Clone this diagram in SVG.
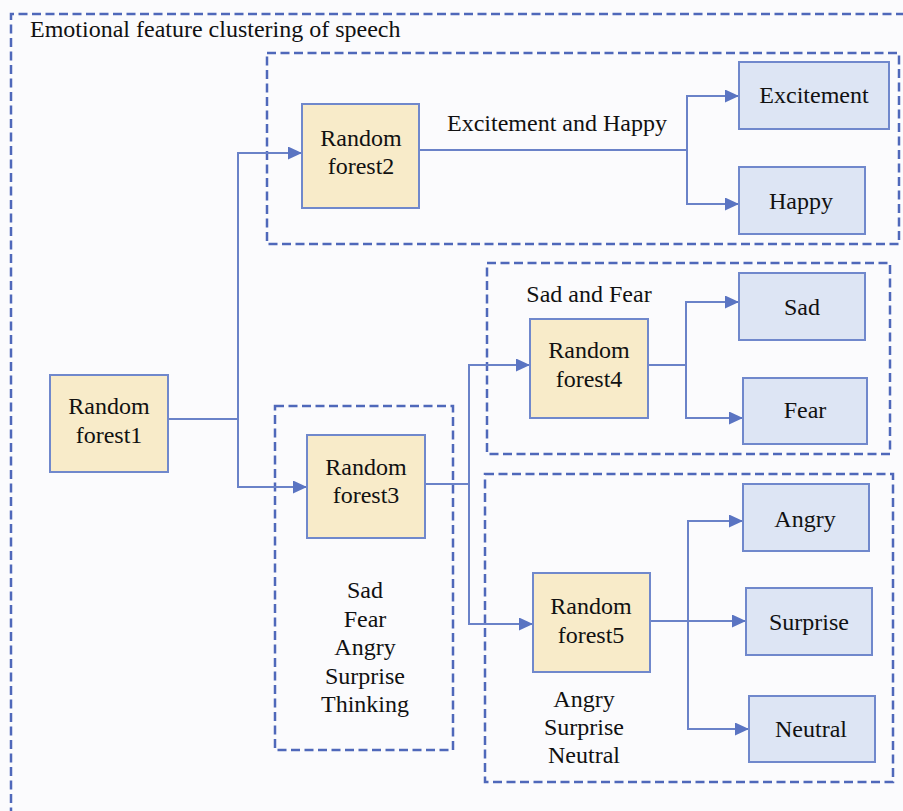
<svg xmlns="http://www.w3.org/2000/svg" width="903" height="811" viewBox="0 0 903 811">
<style>
text{font-family:"Liberation Serif","Times New Roman",serif;font-size:24px;fill:#111;}
.c{text-anchor:middle;}
.grp{fill:none;stroke:#4f68ba;stroke-width:2.5;stroke-dasharray:9 4.5;}
.rf rect{fill:#f8ebc9;stroke:#7088cc;stroke-width:2;}
.leaf rect{fill:#dde5f4;stroke:#7088cc;stroke-width:2;}
#connectors path{fill:none;stroke:#6a82c8;stroke-width:2;}
.arr{marker-end:url(#ah);}
</style>
<defs>
<marker id="ah" markerUnits="userSpaceOnUse" markerWidth="15" markerHeight="14" refX="14" refY="6.5" orient="auto">
<path d="M0,0 L14,6.5 L0,13 z" fill="#5a74c2"/>
</marker>
</defs>
<rect x="0" y="0" width="903" height="811" fill="#fbfbfd"/>
<g id="outer">
<path class="grp" d="M11,830 V14 H920"/>
<text x="30" y="37">Emotional feature clustering of speech</text>
</g>
<g id="group-excitement">
<rect class="grp" x="267" y="53" width="632" height="191"/>
<text class="c" x="557" y="131">Excitement and Happy</text>
</g>
<g id="group-sadfear">
<rect class="grp" x="487" y="263" width="403" height="191"/>
<text class="c" x="589" y="302">Sad and Fear</text>
</g>
<g id="group-forest3">
<rect class="grp" x="275" y="406" width="178" height="344"/>
<text class="c" x="365" y="598">Sad</text>
<text class="c" x="365" y="627">Fear</text>
<text class="c" x="365" y="655">Angry</text>
<text class="c" x="365" y="684">Surprise</text>
<text class="c" x="365" y="712">Thinking</text>
</g>
<g id="group-forest5">
<rect class="grp" x="485" y="474" width="408" height="308"/>
<text class="c" x="584" y="707">Angry</text>
<text class="c" x="584" y="735">Surprise</text>
<text class="c" x="584" y="763">Neutral</text>
</g>
<g id="connectors">
<path d="M168,419 H238 V153 H302" class="arr"/>
<path d="M238,419 V487 H307" class="arr"/>
<path d="M419,150 H687 V96 H739" class="arr"/>
<path d="M687,150 V204 H739" class="arr"/>
<path d="M425,484 H469 V365 H530" class="arr"/>
<path d="M469,484 V624 H533" class="arr"/>
<path d="M648,365 H686 V302 H739" class="arr"/>
<path d="M686,365 V418 H743" class="arr"/>
<path d="M650,621 H746" class="arr"/>
<path d="M688,621 V521 H743" class="arr"/>
<path d="M688,621 V729 H749" class="arr"/>
</g>
<g id="forest1" class="rf">
<rect x="50" y="375" width="118" height="97"/>
<text class="c" x="109" y="414">Random</text>
<text class="c" x="109" y="443">forest1</text>
</g>
<g id="forest2" class="rf">
<rect x="302" y="104" width="117" height="104"/>
<text class="c" x="361" y="146">Random</text>
<text class="c" x="361" y="174">forest2</text>
</g>
<g id="forest3" class="rf">
<rect x="307" y="435" width="118" height="103"/>
<text class="c" x="366" y="475">Random</text>
<text class="c" x="366" y="503">forest3</text>
</g>
<g id="forest4" class="rf">
<rect x="530" y="319" width="118" height="99"/>
<text class="c" x="589" y="358">Random</text>
<text class="c" x="589" y="387">forest4</text>
</g>
<g id="forest5" class="rf">
<rect x="533" y="573" width="117" height="99"/>
<text class="c" x="591" y="614">Random</text>
<text class="c" x="591" y="643">forest5</text>
</g>
<g id="excitement" class="leaf">
<rect x="739" y="62" width="150" height="67"/>
<text class="c" x="814" y="103">Excitement</text>
</g>
<g id="happy" class="leaf">
<rect x="739" y="167" width="126" height="67"/>
<text class="c" x="801" y="209">Happy</text>
</g>
<g id="sad" class="leaf">
<rect x="739" y="273" width="126" height="67"/>
<text class="c" x="802" y="315">Sad</text>
</g>
<g id="fear" class="leaf">
<rect x="743" y="378" width="124" height="66"/>
<text class="c" x="805" y="418">Fear</text>
</g>
<g id="angry" class="leaf">
<rect x="743" y="484" width="126" height="67"/>
<text class="c" x="805" y="527">Angry</text>
</g>
<g id="surprise" class="leaf">
<rect x="746" y="588" width="126" height="67"/>
<text class="c" x="809" y="630">Surprise</text>
</g>
<g id="neutral" class="leaf">
<rect x="749" y="696" width="126" height="66"/>
<text class="c" x="811" y="737">Neutral</text>
</g>
</svg>
